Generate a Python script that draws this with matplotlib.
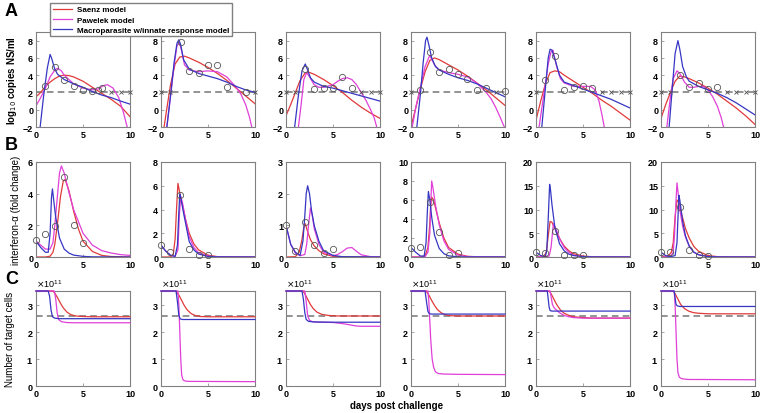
import matplotlib
matplotlib.use('Agg')

import matplotlib.pyplot as plt
from matplotlib.ticker import ScalarFormatter

plt.rcParams['font.family'] = ['Liberation Sans', 'DejaVu Sans']

RED = '#e03a3a'
MAG = '#e040d8'
BLUE = '#3636c4'
GREY = '#808080'

# ---- row A: viral load (log10 copies NS/ml), one (x, y) pair per animal
vir_saenz = [
    ([0, 0.5, 1, 1.5, 2, 2.5, 3, 3.5, 4, 5, 6, 7, 8, 9, 10],
     [1.5, 2.0, 2.7, 3.2, 3.6, 3.9, 4.0, 3.95, 3.8, 3.3, 2.6, 1.9, 1.2, 0.4, -0.8]),
    ([0.3, 0.6, 1.0, 1.5, 2.0, 2.5, 3, 4, 5, 6, 7, 8, 9, 10],
     [-2.2, 0.0, 2.8, 5.3, 6.1, 6.2, 6.0, 5.5, 4.9, 4.2, 3.4, 2.5, 1.6, 0.7]),
    ([0, 0.5, 1, 1.5, 2, 2.3, 3, 4, 5, 6, 7, 8, 9, 10],
     [-0.7, 0.6, 2.0, 3.4, 4.2, 4.4, 4.1, 3.5, 2.8, 2.0, 1.1, 0.3, -0.4, -1.0]),
    ([0, 0.5, 1, 1.5, 2, 2.5, 3, 4, 5, 6, 7, 8, 9, 10],
     [-2.0, 0.2, 2.4, 4.4, 5.7, 6.0, 5.8, 5.2, 4.6, 3.9, 3.1, 2.3, 1.4, 0.5]),
    ([0, 0.5, 1, 1.5, 2, 2.5, 3, 4, 5, 6, 7, 8, 9, 10],
     [-1.2, 1.0, 3.0, 4.3, 4.5, 4.4, 4.0, 3.3, 2.6, 1.9, 1.1, 0.4, -0.4, -1.2]),
    ([0, 0.5, 1, 1.5, 2, 2.5, 3, 4, 5, 6, 7, 8, 9, 10],
     [-1.0, 0.6, 2.0, 3.3, 3.9, 3.8, 3.6, 3.1, 2.5, 1.8, 1.0, 0.2, -0.7, -1.7]),
]
vir_pawelek = [
    ([0, 0.5, 1, 1.5, 2, 2.3, 2.7, 3, 4, 5, 6, 6.6, 7.2, 7.6, 8.2, 8.8, 9.3, 9.7, 9.9],
     [0.45, 1.4, 2.5, 3.8, 4.6, 4.8, 4.5, 4.0, 3.0, 2.5, 2.3, 2.4, 2.8, 2.9, 2.5, 1.4, -0.3, -2.0, -2.6]),
    ([0.6, 1.0, 1.4, 1.7, 1.95, 2.2, 2.5, 3, 4, 5, 6, 7, 8, 8.5, 9, 9.4, 9.7],
     [-2.2, 1.4, 5.2, 7.4, 7.8, 6.8, 5.2, 4.6, 4.4, 4.5, 4.4, 3.8, 2.6, 1.8, 0.6, -0.8, -2.2]),
    ([1.3, 1.6, 1.9, 2.2, 2.5, 3, 3.5, 4, 5, 5.5, 6, 6.5, 7, 7.5, 8, 8.5, 9, 9.4, 9.7],
     [-2.2, 0.5, 3.5, 4.3, 3.8, 2.9, 2.6, 2.6, 2.9, 3.3, 3.6, 3.7, 3.5, 2.9, 2.0, 1.1, 0.0, -1.0, -2.2]),
    ([0.1, 0.5, 1, 1.5, 2, 2.5, 3, 4, 5, 6, 7, 8, 8.5, 9, 9.5, 10],
     [-2.2, 0.2, 2.6, 5.0, 6.3, 5.2, 4.6, 4.3, 4.1, 3.8, 3.1, 2.0, 1.3, 0.3, -0.9, -2.2]),
    ([0.3, 0.7, 1.0, 1.3, 1.6, 1.8, 2.2, 2.6, 3, 4, 5, 5.8, 6.3, 6.7, 7.0, 7.3],
     [-2.2, 0.8, 3.0, 5.3, 6.7, 6.9, 5.0, 3.6, 3.1, 2.7, 2.7, 2.7, 2.3, 1.0, -0.5, -2.2]),
    ([0.6, 1.0, 1.3, 1.7, 2.0, 2.5, 3, 3.5, 4, 4.5, 5, 5.5, 6, 6.4, 6.7],
     [-2.2, 1.5, 3.6, 4.5, 4.2, 3.2, 2.6, 2.6, 2.7, 2.7, 2.3, 1.5, 0.4, -0.9, -2.2]),
]
vir_macro = [
    ([0.42, 0.8, 1.2, 1.5, 1.65, 2.0, 2.3, 3, 4, 5, 6, 7, 8, 9, 10],
     [-2.2, 1.5, 4.8, 6.4, 6.0, 4.7, 4.1, 3.5, 3.0, 2.6, 2.1, 1.7, 1.4, 1.0, 0.65]),
    ([0.6, 1.0, 1.4, 1.7, 1.9, 2.1, 2.4, 3, 4, 5, 6, 7, 8, 9, 10],
     [-2.2, 1.5, 5.5, 7.7, 8.1, 7.5, 5.8, 4.7, 4.2, 3.9, 3.6, 3.2, 2.7, 2.3, 2.0]),
    ([0.9, 1.3, 1.7, 2.05, 2.3, 2.6, 3, 4, 5, 6, 7, 8, 9, 10],
     [-2.2, 1.5, 4.5, 5.3, 4.6, 3.7, 3.2, 2.7, 2.5, 2.2, 1.9, 1.6, 1.3, 1.0]),
    ([0.6, 1.0, 1.3, 1.55, 1.7, 1.9, 2.2, 2.6, 3, 4, 5, 6, 7, 8, 9, 10],
     [-2.2, 1.8, 5.5, 8.0, 8.4, 7.5, 6.0, 5.0, 4.6, 4.1, 3.7, 3.4, 3.0, 2.5, 2.0, 1.5]),
    ([0.6, 1.0, 1.3, 1.5, 1.7, 2.0, 2.5, 3, 4, 5, 6, 7, 8, 9, 10],
     [-2.2, 2.5, 6.0, 7.0, 6.9, 5.9, 4.0, 3.2, 2.8, 2.4, 2.0, 1.6, 1.2, 0.7, 0.2]),
    ([0.85, 1.2, 1.5, 1.8, 2.0, 2.3, 2.7, 3, 4, 5, 6, 7, 8, 9, 10],
     [-2.2, 2.5, 6.5, 8.0, 7.0, 5.0, 3.8, 3.3, 2.7, 2.3, 1.9, 1.4, 0.8, 0.1, -0.6]),
]
vir_obs = [
    ([1, 2, 3, 4, 5, 6, 6.6, 7], [2.8, 5.0, 3.4, 2.8, 2.3, 2.2, 2.3, 2.5]),
    ([2.1, 3, 4, 5, 6, 7, 9], [7.9, 4.5, 4.2, 5.2, 5.2, 2.6, 2.1]),
    ([2, 3, 4, 5, 6, 7], [4.7, 2.4, 2.5, 2.5, 3.8, 2.5]),
    ([1, 2, 3, 4, 5, 6, 7, 8, 10], [2.3, 6.7, 4.4, 4.7, 4.1, 3.6, 2.3, 2.5, 2.2]),
    ([1, 2, 3, 4, 5, 6], [3.4, 6.2, 2.3, 2.65, 2.8, 2.5]),
    ([2, 3, 4, 5, 6], [4.0, 2.6, 3.1, 2.4, 2.6]),
]
vir_undetected = [[8, 9, 10], [0, 1, 10], [0, 1, 8, 9, 10], [0, 9], [0, 7, 8, 9, 10], [0, 1, 7, 8, 9, 10]]
detection_limit = 2

# ---- row B: interferon-alpha (fold change)
ifn_saenz = [
    ([0, 1, 1.5, 1.8, 2, 2.3, 2.6, 2.9, 3.1, 3.5, 4, 4.5, 5, 6, 7, 8, 10],
     [0, 0, 0.05, 0.3, 0.8, 2.2, 3.8, 4.8, 4.9, 4.2, 2.9, 1.8, 1.0, 0.35, 0.1, 0.03, 0]),
    ([0, 1, 1.3, 1.5, 1.65, 1.8, 2.0, 2.3, 2.6, 3, 3.5, 4, 5, 6, 10],
     [0, 0, 0.2, 1.5, 4.0, 6.2, 5.4, 4.3, 3.2, 2.0, 1.1, 0.6, 0.15, 0.03, 0]),
    ([0, 1, 1.4, 1.7, 1.9, 2.05, 2.3, 2.6, 3, 3.5, 4, 5, 6, 10],
     [0, 0.01, 0.15, 0.55, 0.95, 1.05, 0.8, 0.55, 0.35, 0.2, 0.1, 0.02, 0.005, 0]),
    ([0, 1, 1.5, 1.8, 2.0, 2.1, 2.2, 2.4, 2.7, 3, 3.5, 4, 5, 6, 7, 10],
     [0, 0, 0.1, 1.0, 3.5, 5.5, 6.3, 6.0, 4.8, 3.6, 2.0, 1.0, 0.3, 0.07, 0.02, 0]),
    ([0, 0.8, 1.1, 1.3, 1.5, 1.7, 2.0, 2.5, 3, 3.5, 4, 5, 6, 7, 10],
     [0, 0.1, 1.0, 4.5, 7.5, 7.3, 6.0, 3.9, 2.3, 1.3, 0.7, 0.2, 0.05, 0.01, 0]),
    ([0, 0.8, 1.1, 1.3, 1.5, 1.7, 1.9, 2.2, 2.6, 3, 3.5, 4, 5, 6, 7, 10],
     [0, 0.3, 1.0, 3.0, 8.5, 12.0, 11.5, 9.0, 6.0, 4.0, 2.2, 1.2, 0.3, 0.08, 0.02, 0]),
]
ifn_pawelek = [
    ([0, 0.5, 1, 1.5, 1.8, 2.0, 2.3, 2.5, 2.7, 3, 3.5, 4, 5, 6, 7, 8, 9, 10],
     [1.0, 0.75, 0.5, 0.5, 0.9, 2.0, 4.0, 5.3, 5.75, 5.3, 4.1, 3.0, 1.5, 0.75, 0.4, 0.25, 0.15, 0.1]),
    ([0, 0.5, 1, 1.5, 1.8, 1.95, 2.1, 2.3, 2.6, 3, 3.5, 4, 5, 6, 10],
     [1.0, 0.5, 0.15, 0.05, 0.6, 3.5, 5.1, 4.5, 3.2, 1.7, 0.8, 0.35, 0.08, 0.02, 0]),
    ([0, 0.5, 1, 1.5, 2, 2.2, 2.4, 2.6, 2.8, 3, 3.5, 4, 5, 5.5, 6, 6.5, 7, 7.5, 8, 9, 10],
     [1.0, 0.4, 0.12, 0.04, 0.08, 0.4, 1.0, 1.55, 1.3, 0.9, 0.4, 0.15, 0.04, 0.08, 0.17, 0.28, 0.3, 0.18, 0.07, 0.01, 0]),
    ([0, 1, 1.5, 1.8, 2.0, 2.1, 2.2, 2.35, 2.6, 3, 3.5, 4, 5, 6, 10],
     [0, 0, 0.05, 0.5, 2.5, 5.5, 8.0, 7.2, 5.5, 3.4, 1.7, 0.8, 0.2, 0.05, 0]),
    ([0, 1, 1.4, 1.6, 1.75, 1.85, 2.0, 2.3, 2.6, 3, 3.5, 4, 5, 6, 10],
     [0, 0.05, 0.2, 2.0, 5.0, 7.0, 6.5, 5.0, 3.5, 2.0, 1.0, 0.4, 0.1, 0.02, 0]),
    ([0, 1, 1.3, 1.45, 1.6, 1.7, 1.85, 2.0, 2.3, 2.6, 3, 3.5, 4, 5, 6, 10],
     [0, 0.05, 1.0, 5.0, 12.0, 15.6, 13.0, 10.0, 6.5, 4.2, 2.3, 1.0, 0.5, 0.1, 0.02, 0]),
]
ifn_macro = [
    ([0, 0.5, 1, 1.3, 1.5, 1.65, 1.75, 1.9, 2.1, 2.5, 3, 3.5, 4, 5, 6, 10],
     [1.0, 0.6, 0.3, 0.3, 1.5, 3.8, 4.3, 3.5, 2.5, 1.2, 0.5, 0.25, 0.12, 0.04, 0.01, 0]),
    ([0, 0.5, 1, 1.5, 1.75, 1.9, 2.0, 2.1, 2.4, 3, 3.5, 4, 5, 6, 10],
     [1.0, 0.5, 0.15, 0.05, 1.0, 3.8, 5.3, 5.0, 3.7, 1.3, 0.6, 0.25, 0.05, 0.01, 0]),
    ([0, 0.5, 1, 1.5, 1.8, 2.0, 2.15, 2.3, 2.5, 2.7, 3, 3.5, 4, 5, 6, 10],
     [1.0, 0.4, 0.15, 0.05, 0.5, 1.3, 2.0, 2.25, 2.0, 1.5, 1.0, 0.5, 0.2, 0.05, 0.01, 0]),
    ([0, 0.5, 1, 1.4, 1.6, 1.75, 1.85, 2.0, 2.2, 2.5, 3, 3.5, 4, 5, 6, 10],
     [1.0, 0.5, 0.1, 0.1, 1.5, 5.0, 6.9, 6.0, 4.2, 2.3, 0.9, 0.35, 0.12, 0.02, 0.005, 0]),
    ([0, 0.5, 1, 1.15, 1.3, 1.45, 1.55, 1.7, 2.0, 2.5, 3, 3.5, 4, 5, 6, 10],
     [1.0, 0.3, 0.1, 1.5, 8.0, 15.3, 14.0, 11.0, 6.3, 2.8, 1.3, 0.6, 0.3, 0.08, 0.02, 0]),
    ([0, 0.5, 1, 1.5, 1.7, 1.8, 1.9, 2.0, 2.3, 2.6, 3, 3.5, 4, 5, 6, 10],
     [1.0, 0.3, 0.05, 0.3, 3.0, 8.0, 13.0, 12.0, 7.5, 4.5, 2.3, 1.0, 0.45, 0.1, 0.02, 0]),
]
ifn_obs = [
    ([0, 1, 2, 3, 4, 5], [1.05, 1.45, 1.95, 5.05, 2.0, 0.9]),
    ([0, 1, 2, 3, 4, 5], [1.05, 0.45, 5.25, 0.7, 0.15, 0.2]),
    ([0, 1, 2, 3, 4, 5], [1.0, 0.2, 1.1, 0.37, 0.14, 0.25]),
    ([0, 1, 2, 3, 4, 5], [1.0, 1.05, 5.75, 2.6, 0.2, 0.4]),
    ([0, 1, 2, 3, 4, 5], [1.15, 0.9, 5.4, 0.35, 0.35, 0.35]),
    ([0, 1, 2, 3, 4, 5], [1.1, 1.1, 10.6, 1.5, 0.4, 0.2]),
]
ifn_ylim = [6, 8, 3, 10, 20, 20]
ifn_ticks = [[0, 2, 4, 6], [0, 2, 4, 6, 8], [0, 1, 2, 3], [0, 2, 4, 6, 8, 10],
             [0, 5, 10, 15, 20], [0, 5, 10, 15, 20]]

# ---- row C: target cells, in units of 1e11
tc_saenz = [
    ([0, 1.8, 2.0, 2.3, 2.6, 2.9, 3.3, 3.7, 4.2, 5, 6, 10],
     [3.5, 3.5, 3.42, 3.25, 3.05, 2.88, 2.72, 2.63, 2.58, 2.56, 2.55, 2.55]),
    ([0, 1.6, 1.9, 2.2, 2.5, 2.8, 3.2, 3.6, 4.2, 5, 10],
     [3.5, 3.5, 3.35, 3.15, 2.95, 2.8, 2.67, 2.6, 2.56, 2.55, 2.55]),
    ([0, 1.8, 2.0, 2.3, 2.6, 2.9, 3.3, 3.8, 4.5, 5.5, 10],
     [3.5, 3.5, 3.4, 3.2, 3.0, 2.85, 2.72, 2.64, 2.6, 2.58, 2.58]),
    ([0, 1.6, 1.9, 2.2, 2.5, 2.8, 3.2, 3.6, 4.2, 5, 10],
     [3.5, 3.5, 3.35, 3.15, 2.97, 2.82, 2.7, 2.63, 2.59, 2.58, 2.58]),
    ([0, 1.4, 1.6, 1.9, 2.2, 2.6, 3, 3.5, 4, 5, 6, 10],
     [3.5, 3.5, 3.4, 3.2, 3.0, 2.8, 2.68, 2.6, 2.55, 2.52, 2.5, 2.5]),
    ([0, 1.3, 1.5, 1.8, 2.1, 2.5, 3, 3.5, 4, 5, 6, 10],
     [3.5, 3.5, 3.4, 3.2, 3.0, 2.85, 2.75, 2.7, 2.68, 2.66, 2.66, 2.66]),
]
tc_pawelek = [
    ([0, 1.95, 2.1, 2.25, 2.4, 2.7, 3.2, 4, 10],
     [3.5, 3.5, 3.2, 2.7, 2.45, 2.37, 2.34, 2.33, 2.33]),
    ([0, 1.8, 1.9, 2.0, 2.1, 2.2, 2.35, 2.6, 3, 10],
     [3.5, 3.5, 3.0, 2.0, 1.0, 0.4, 0.22, 0.18, 0.17, 0.16]),
    ([0, 2.0, 2.15, 2.3, 2.5, 2.8, 3.5, 5, 6, 7, 7.5, 8, 10],
     [3.5, 3.5, 3.1, 2.6, 2.42, 2.37, 2.35, 2.34, 2.3, 2.24, 2.21, 2.2, 2.2]),
    ([0, 1.8, 1.9, 2.0, 2.1, 2.25, 2.4, 2.6, 2.9, 3.5, 5, 10],
     [3.5, 3.5, 3.1, 2.4, 1.7, 1.0, 0.7, 0.52, 0.46, 0.44, 0.43, 0.42]),
    ([0, 1.5, 1.6, 1.75, 1.9, 2.1, 2.5, 3, 3.5, 4, 5, 10],
     [3.5, 3.5, 3.3, 3.0, 2.9, 2.82, 2.7, 2.6, 2.55, 2.52, 2.5, 2.5]),
    ([0, 1.4, 1.5, 1.6, 1.7, 1.8, 1.95, 2.2, 2.6, 3, 4, 10],
     [3.5, 3.5, 3.0, 2.0, 1.0, 0.5, 0.32, 0.27, 0.25, 0.24, 0.24, 0.23]),
]
tc_macro = [
    ([0, 1.3, 1.45, 1.6, 1.75, 2.0, 2.5, 3, 10],
     [3.5, 3.5, 3.3, 2.8, 2.55, 2.5, 2.48, 2.48, 2.48]),
    ([0, 1.6, 1.75, 1.9, 2.05, 2.3, 3, 10],
     [3.5, 3.5, 3.1, 2.6, 2.47, 2.45, 2.45, 2.45]),
    ([0, 1.7, 1.85, 2.0, 2.15, 2.4, 3, 5, 10],
     [3.5, 3.5, 3.2, 2.7, 2.45, 2.38, 2.36, 2.35, 2.35]),
    ([0, 1.5, 1.65, 1.8, 1.95, 2.2, 10],
     [3.5, 3.5, 3.1, 2.75, 2.66, 2.65, 2.65]),
    ([0, 1.2, 1.3, 1.4, 1.5, 1.7, 10],
     [3.5, 3.5, 3.2, 2.9, 2.78, 2.76, 2.76]),
    ([0, 1.4, 1.5, 1.6, 1.75, 2.0, 10],
     [3.5, 3.5, 3.25, 3.0, 2.95, 2.93, 2.93]),
]
tc_baseline = 2.58
tc_scale = 1e11


def style_axes(ax):
    for s in ax.spines.values():
        s.set_color(GREY)
        s.set_linewidth(0.8)
    ax.tick_params(direction='in', length=2, width=0.5, color=GREY, labelsize=6.5, pad=2)
    ax.set_xlim(0, 10)
    ax.set_xticks([0, 5, 10])
    for lab in ax.get_xticklabels() + ax.get_yticklabels():
        lab.set_fontweight('bold')


fig = plt.figure(figsize=(7.61, 4.14), dpi=100)
W, H = 761, 414
left0, step, aw, ah = 36, 125, 94, 95
row_bottom = [128, 258, 387]

handles = None
for i in range(6):
    l = (left0 + i * step) / W

    # row A
    ax = fig.add_axes([l, 1 - row_bottom[0] / H, aw / W, ah / H])
    ax.axhline(detection_limit, color=GREY, ls=(0, (4, 2.5)), lw=1.2, zorder=1)
    ax.plot(vir_undetected[i], [detection_limit] * len(vir_undetected[i]), 'x',
            color='#505050', ms=3.2, mew=0.6, zorder=3, clip_on=False)
    lines = []
    for series, col in [(vir_saenz, RED), (vir_pawelek, MAG), (vir_macro, BLUE)]:
        ln, = ax.plot(series[i][0], series[i][1], color=col, lw=0.9, zorder=2)
        lines.append(ln)
    if handles is None:
        handles = lines
    ox, oy = vir_obs[i]
    ax.plot(ox, oy, 'o', mfc='none', mec='#555555', ms=4.5, mew=0.6, zorder=4, clip_on=False)
    ax.set_ylim(-2, 9)
    ax.set_yticks([-2, 0, 2, 4, 6, 8])
    style_axes(ax)
    if i == 0:
        ax.set_ylabel('log$_{10}$ copies NS/ml', fontsize=7, fontweight='bold', labelpad=3)

    # row B
    ax = fig.add_axes([l, 1 - row_bottom[1] / H, aw / W, ah / H])
    for series, col in [(ifn_saenz, RED), (ifn_pawelek, MAG), (ifn_macro, BLUE)]:
        ax.plot(series[i][0], series[i][1], color=col, lw=0.9, zorder=2)
    ox, oy = ifn_obs[i]
    ax.plot(ox, oy, 'o', mfc='none', mec='#555555', ms=4.5, mew=0.6, zorder=4, clip_on=False)
    ax.set_ylim(0, ifn_ylim[i])
    ax.set_yticks(ifn_ticks[i])
    style_axes(ax)
    if i == 0:
        ax.set_ylabel('interferon-\u03b1 (fold change)', fontsize=7, labelpad=5)

    # row C
    ax = fig.add_axes([l, 1 - row_bottom[2] / H, aw / W, ah / H])
    ax.axhline(tc_baseline * tc_scale, color=GREY, ls=(0, (4, 2.5)), lw=1.2, zorder=1)
    for series, col in [(tc_saenz, RED), (tc_pawelek, MAG), (tc_macro, BLUE)]:
        ax.plot(series[i][0], [v * tc_scale for v in series[i][1]], color=col, lw=0.9,
                zorder=3, clip_on=False)
    ax.set_ylim(0, 3.5 * tc_scale)
    ax.set_yticks([0, 1e11, 2e11, 3e11])
    fmt = ScalarFormatter(useMathText=True)
    fmt.set_powerlimits((0, 0))
    ax.yaxis.set_major_formatter(fmt)
    style_axes(ax)
    ax.yaxis.get_offset_text().set_fontsize(6.5)
    if i == 0:
        ax.set_ylabel('Number of target cells', fontsize=7, labelpad=8)

fig.legend(handles, ['Saenz model', 'Pawelek model', 'Macroparasite w/innate response model'],
           loc='upper left', bbox_to_anchor=(50 / W, 1 - 4 / H), fancybox=False,
           edgecolor=GREY, framealpha=1, handlelength=2.4, handletextpad=0.6,
           borderpad=0.35, labelspacing=0.3, borderaxespad=0,
           prop={'size': 5.8, 'weight': 'bold'})

for letter, y in [('A', 12), ('B', 145), ('C', 279)]:
    fig.text(5 / W, 1 - y / H, letter, fontsize=13, fontweight='bold', va='center', ha='left')

fig.text(397 / W, 1 - 406 / H, 'days post challenge', fontsize=7, fontweight='bold',
         ha='center', va='center')

fig.savefig('out.png', dpi=100)
